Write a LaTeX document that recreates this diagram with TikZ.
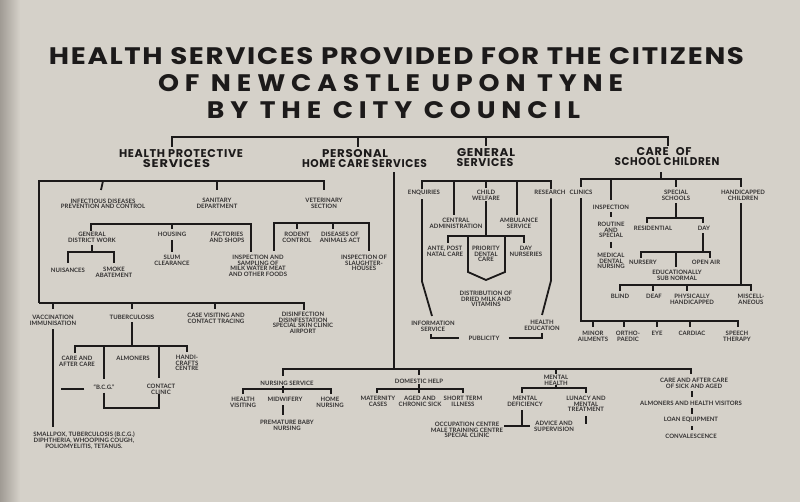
\documentclass[tikz,border=0pt]{standalone}
\usepackage{fontspec}
\usetikzlibrary{calc}
\setmainfont{Lato}
\newfontfamily\titlefont{Poppins}[LetterSpace=6]
\newfontfamily\titlefontw{Poppins}[LetterSpace=22]
\newfontfamily\smallfont{Lato}[LetterSpace=1]
\definecolor{bg}{RGB}{213,209,201}
\definecolor{edge}{RGB}{160,155,148}
\definecolor{ink}{RGB}{28,26,26}
\newcommand\hd[3]{\resizebox{#1pt}{#2pt}{\titlefont\bfseries #3}}
\newcommand\hdw[3]{\resizebox{#1pt}{#2pt}{\titlefontw\bfseries #3}}
\begin{document}
\begin{tikzpicture}[x=1pt,y=-1pt,
  ln/.style={draw=ink,line width=1.8pt},
  tx/.style={font={\smallfont\bfseries\fontsize{6}{5.7}\selectfont}, text=ink!90, align=center, inner sep=0pt, anchor=north},
  hd/.style={text=ink, inner sep=0pt}]
\useasboundingbox (0,0) rectangle (800,502);
\fill[bg] (0,0) rectangle (800,502);
\shade[left color=edge, right color=bg] (0,0) rectangle (20,502);

% ---------- title ----------
\node[hd] (t1) at (396.5,56.5) {\hd{695}{17}{HEALTH SERVICES PROVIDED FOR THE CITIZENS}};
\node[hd] (t2) at (390.5,83.5) {\hdw{465}{17}{OF NEWCASTLE UPON TYNE}};
\node[hd] (t3) at (393.5,110) {\hdw{373}{17}{BY THE CITY COUNCIL}};

% ---------- headings ----------
\node[hd] (hp1) at (181,154) {\hd{124}{8}{HEALTH PROTECTIVE}};
\node[hd] (hp2) at (176.5,164) {\hd{67}{8}{SERVICES}};
\node[hd] (ph1) at (355,154) {\hd{66}{8}{PERSONAL}};
\node[hd] (ph2) at (364.5,164) {\hd{125}{8}{HOME CARE SERVICES}};
\node[hd] (gs1) at (486,153) {\hd{58}{8}{GENERAL}};
\node[hd] (gs2) at (485,163) {\hd{57}{8}{SERVICES}};
\node[hd] (cs1) at (664,152) {\hd{55}{8}{CARE\hspace{0.35em} OF}};
\node[hd] (cs2) at (667,162) {\hd{105}{8}{SCHOOL CHILDREN}};

\coordinate (tA) at (172,137);
\draw[ln] ($(hp1.north)+(-9,-3)$) -- (tA) -| ($(cs1.north)+(4,-2)$);
\draw[ln] ($(ph1.north |- tA)+(3,0)$) -- ($(ph1.north)+(3,-3)$);
\draw[ln] (gs1.north |- tA) -- ($(gs1.north)+(0,-3)$);

% ---------- health protective ----------
\node[tx] (inf) at (103,198.5) {INFECTIOUS DISEASES\\PREVENTION AND CONTROL};
\node[tx] (san) at (217,197.8) {SANITARY\\DEPARTMENT};
\node[tx] (vet) at (324,197.8) {VETERINARY\\SECTION};
\node[tx] (gdw) at (92,231.8) {GENERAL\\DISTRICT WORK};
\node[tx] (housing) at (172,231.8) {HOUSING};
\node[tx] (fact) at (227,231.8) {FACTORIES\\AND SHOPS};
\node[tx] (nuis) at (68,267.8) {NUISANCES};
\node[tx] (smoke) at (114,266.8) {SMOKE\\ABATEMENT};
\node[tx] (slum) at (172,254.8) {SLUM\\CLEARANCE};
\node[tx] (insp) at (258,254.8) {INSPECTION AND\\SAMPLING OF\\MILK WATER MEAT\\AND OTHER FOODS};
\node[tx] (rodent) at (297,231.8) {RODENT\\CONTROL};
\node[tx] (dis) at (340,231.8) {DISEASES OF\\ANIMALS ACT};
\node[tx] (inspof) at (364,254.8) {INSPECTION OF\\SLAUGHTER-\\HOUSES};

\coordinate (hpA) at (39,181);
\coordinate (hpB) at (39,303);
\draw[ln] (hpB) -- (hpA) -| ($(vet.north)+(0,-8)$);
\draw[ln] (inf.north |- hpA) -- ($(inf.north)+(-2,-8.5)$);
\draw[ln] (san.north |- hpA) -- ($(san.north)+(0,-8)$);

\coordinate (sanA) at (91,224);
\draw[ln] ($(gdw.north)+(-1,-1)$) -- (sanA) -| ($(insp.north)+(-7,-3)$);
\draw[ln] (housing.north |- sanA) -- ($(housing.north)+(0,-3)$);
\coordinate (gdwj) at (92,252);
\draw[ln] ($(gdw.south)+(0,3)$) -- (gdwj);
\draw[ln] ($(nuis.north)+(0,-4.8)$) -- (nuis.north |- gdwj) -- (smoke.north |- gdwj) -- ($(smoke.north)+(0,-3.8)$);
\draw[ln] ($(housing.south)+(0,3.8)$) -- ($(slum.north)+(0,-2.8)$);

\coordinate (vetA) at (274,223);
\draw[ln] ($(insp.north)+(16,-3.8)$) -- (vetA) -| ($(inspof.north)+(5,-3.8)$);
\draw[ln] (rodent.north |- vetA) -- ($(rodent.north)+(0,-2.8)$);
\draw[ln] ($(dis.north |- vetA)+(-7,0)$) -- ($(dis.north)+(-7,-2.8)$);

\node[tx] (vacc) at (53,314.8) {VACCINATION\\IMMUNISATION};
\node[tx] (tb) at (132,314.8) {TUBERCULOSIS};
\node[tx] (casev) at (216,312.8) {CASE VISITING AND\\CONTACT TRACING};
\node[tx] (disinf) at (303,311.8) {DISINFECTION\\DISINFESTATION\\SPECIAL SKIN CLINIC\\AIRPORT};
\node[tx] (smallpox) at (84,431.8) {SMALLPOX, TUBERCULOSIS (B.C.G.)\\DIPHTHERIA, WHOOPING COUGH,\\POLIOMYELITIS, TETANUS.};
\node[tx] (care) at (77,355.8) {CARE AND\\AFTER CARE};
\node[tx] (alm) at (133,355.8) {ALMONERS};
\node[tx] (handi) at (187,354.8) {HANDI-\\CRAFTS\\CENTRE};
\node[tx] (bcg) at (104,384.8) {“B.C.G.”};
\node[tx] (contact) at (161,383.8) {CONTACT\\CLINIC};

\draw[ln] (hpB) -| ($(disinf.north)+(1,-1.5)$);
\draw[ln] (vacc.north |- hpB) -- ($(vacc.north)+(0,-5.8)$);
\draw[ln] (tb.north |- hpB) -- ($(tb.north)+(0,-5.8)$);
\draw[ln] ($(casev.north |- hpB)+(-1,0)$) -- ($(casev.north)+(-1,-3.8)$);
\draw[ln] ($(vacc.south)+(0,3.8)$) -- ($(vacc.south |- smallpox.north)+(0,-5)$);

\coordinate (tbj) at (132,346);
\draw[ln] ($(tb.south)+(0,2.8)$) -- (tbj);
\draw[ln] ($(care.north)+(-2,-2.8)$) -- ($(care.north |- tbj)+(-2,0)$) -- (handi.north |- tbj) -- ($(handi.north)+(0,-2.8)$);
\draw[ln] (bcg.north |- tbj) -- ($(bcg.north)+(0,-5.8)$);
\draw[ln] ($(bcg.south)+(0,2.8)$) -- ($(bcg.south)+(0,17.8)$) -| ($(contact.south)+(-2,0)$);
\draw[ln] ($(contact.north |- tbj)+(-2,0)$) -- ($(contact.north)+(-2,-5.8)$);
\draw[ln] ($(bcg.west)+(-9,1.5)$) -- ++(-23,0);

% ---------- personal home care ----------
\coordinate (pj) at (394,369);
\draw[ln] ($(ph2.south)+(29.5,4)$) -- (pj);
\node[tx] (nurs) at (287,380.8) {NURSING SERVICE};
\node[tx] (hv) at (243,396.8) {HEALTH\\VISITING};
\node[tx] (mid) at (285,396.8) {MIDWIFERY};
\node[tx] (prem) at (287,419.8) {PREMATURE BABY\\NURSING};
\node[tx] (home) at (330,396.8) {HOME\\NURSING};
\node[tx] (dom) at (419,378.8) {DOMESTIC HELP};
\node[tx] (mat) at (378,395.8) {MATERNITY\\CASES};
\node[tx] (aged) at (420,395.8) {AGED AND\\CHRONIC SICK};
\node[tx] (short) at (463,395.8) {SHORT TERM\\ILLNESS};
\node[tx] (mh) at (556,374.8) {MENTAL\\HEALTH};
\node[tx] (md) at (525,395.8) {MENTAL\\DEFICIENCY};
\node[tx] (lun) at (586,395.8) {LUNACY AND\\MENTAL\\TREATMENT};
\node[tx] (occ) at (467,421.8) {OCCUPATION CENTRE\\MALE TRAINING CENTRE\\SPECIAL CLINIC};
\node[tx] (adv) at (554,420.8) {ADVICE AND\\SUPERVISION};
\node[tx] (care2) at (694,377.8) {CARE AND AFTER CARE\\OF SICK AND AGED};
\node[tx] (almhv) at (691,400.8) {ALMONERS AND HEALTH VISITORS};
\node[tx] (loan) at (691,416.8) {LOAN EQUIPMENT};
\node[tx] (conv) at (691,433.8) {CONVALESCENCE};

\draw[ln] ($(nurs.north)+(-4,-4.8)$) -- ($(nurs.north |- pj)+(-4,0)$) -- ($(care2.north |- pj)+(-3,0)$) -- ($(care2.north)+(-3,-3.8)$);
\draw[ln] (dom.north |- pj) -- ($(dom.north)+(0,-3.8)$);
\draw[ln] (mh.north |- pj) -- ($(mh.north)+(0,-1)$);

\coordinate (nj) at (283,389);
\draw[ln] ($(hv.north)+(0,-2.8)$) -- (hv.north |- nj) -- ($(home.north |- nj)+(1,0)$) -- ($(home.north)+(1,-2.8)$);
\draw[ln] ($(nurs.south)+(-4,0)$) -- ($(mid.north)+(-2,-3.8)$);
\draw[ln] ($(mid.south)+(-2,3.8)$) -- ($(prem.north)+(-4,-4.8)$);

\coordinate (dj) at (419,389);
\draw[ln] ($(mat.north)+(-1,-2.8)$) -- ($(mat.north |- dj)+(-1,0)$) -- (short.north |- dj) -- ($(short.north)+(0,-2.8)$);
\draw[ln] (dom.south) -- ($(aged.north)+(-1,-2.8)$);

\coordinate (mj) at (556,388);
\draw[ln] ($(md.north)+(-3,-2.8)$) -- ($(md.north |- mj)+(-3,0)$) -- (lun.north |- mj) -- ($(lun.north)+(0,-2.8)$);
\draw[ln] (mh.south) -- (mj);
\draw[ln] ($(md.south)+(-3,3.8)$) -- ($(md.south)+(-3,19.8)$) coordinate (mdt);
\draw[ln] ($(mdt)+(-18,0)$) -- ($(mdt)+(8,0)$);
\draw[ln] ($(lun.south)+(0,3.8)$) -- ++(0,8);

\draw[ln] ($(care2.south)+(-2,2.8)$) -- ($(almhv.north)+(1,-3.8)$);
\draw[ln] ($(almhv.south)+(1,2.8)$) -- ($(loan.north)+(1,-2.8)$);
\draw[ln] ($(loan.south)+(1,3.8)$) -- ($(conv.north)+(1,-3.8)$);

% ---------- general services ----------
\node[tx] (enq) at (424,189.8) {ENQUIRIES};
\node[tx] (cw) at (486,189.8) {CHILD\\WELFARE};
\node[tx] (res) at (550,189.8) {RESEARCH};
\node[tx] (ca) at (456,217.8) {CENTRAL\\ADMINISTRATION};
\node[tx] (amb) at (519,217.8) {AMBULANCE\\SERVICE};
\node[tx] (ante) at (445,245.8) {ANTE, POST\\NATAL CARE};
\node[tx] (prio) at (486,245.8) {PRIORITY\\DENTAL\\CARE};
\node[tx] (day) at (526,245.8) {DAY\\NURSERIES};
\node[tx] (dist) at (486,290.8) {DISTRIBUTION OF\\DRIED MILK AND\\VITAMINS};
\node[tx] (info) at (433,320.8) {INFORMATION\\SERVICE};
\node[tx] (he) at (542,319.8) {HEALTH\\EDUCATION};
\node[tx] (pub) at (484,335.8) {PUBLICITY};

\coordinate (gA) at (422,181);
\draw[ln] ($(enq.north)+(-2,-1)$) -- (gA) -| ($(res.north)+(1,-1)$);
\draw[ln] ($(ca.north |- gA)+(-2,0)$) -- ($(ca.north)+(-2,-2.8)$);
\draw[ln] (cw.north |- gA) -- ($(cw.north)+(0,-1.8)$);
\draw[ln] ($(amb.north |- gA)+(-2,0)$) -- ($(amb.north)+(-2,-2.8)$);
\draw[ln] ($(enq.south)+(-2,3.8)$) -- ($(enq.south)+(-2,86)$) -- ($(info.north)+(-1,-4.8)$);
\draw[ln] ($(res.south)+(1,3.8)$) -- ($(res.south)+(1,86)$) -- ($(he.north)+(0,-4.8)$);

\coordinate (cwj) at (486,236);
\draw[ln] ($(cw.south)+(0,1)$) -- (cwj);
\draw[ln] ($(ante.north)+(3,-2.8)$) -- ($(ante.north |- cwj)+(3,0)$) -- ($(day.north |- cwj)+(-2,0)$) -- ($(day.north)+(-2,-2.8)$);
\draw[ln] ($(cwj)+(-18,0)$) -- ($(cwj)+(-18,36)$) -- ($(dist.north)+(0,-10.8)$) -- ($(cwj)+(19,36)$) -- ($(cwj)+(19,0)$);

\draw[ln] ($(info.south)+(-2,2.8)$) |- ($(pub.west)+(-9,0)$);
\draw[ln] ($(pub.east)+(9,0)$) -| ($(he.south)+(0,2.8)$);

% ---------- care of school children ----------
\node[tx] (clin) at (581,189.8) {CLINICS};
\node[tx] (insp2) at (611,204.8) {INSPECTION};
\node[tx] (routine) at (611,221.8) {ROUTINE\\AND\\SPECIAL};
\node[tx] (mdn) at (611,252.8) {MEDICAL\\DENTAL\\NURSING};
\node[tx] (ss) at (676,189.8) {SPECIAL\\SCHOOLS};
\node[tx] (resid) at (653,225.8) {RESIDENTIAL};
\node[tx] (day2) at (704,225.8) {DAY};
\node[tx] (nursery) at (643,259.8) {NURSERY};
\node[tx] (openair) at (706,259.8) {OPEN AIR};
\node[tx] (edu) at (677,269.8) {EDUCATIONALLY\\SUB NORMAL};
\node[tx] (hc) at (743,189.8) {HANDICAPPED\\CHILDREN};
\node[tx] (blind) at (620,293.8) {BLIND};
\node[tx] (deaf) at (654,293.8) {DEAF};
\node[tx] (phys) at (692,293.8) {PHYSICALLY\\HANDICAPPED};
\node[tx] (misc) at (751,293.8) {MISCELL-\\ANEOUS};
\node[tx] (minor) at (593,330.8) {MINOR\\AILMENTS};
\node[tx] (ortho) at (628,330.8) {ORTHO-\\PAEDIC};
\node[tx] (eye) at (657,330.8) {EYE};
\node[tx] (cardiac) at (692,330.8) {CARDIAC};
\node[tx] (speech) at (737,330.8) {SPEECH\\THERAPY};

\draw[ln] ($(cs2.south)+(-6,6)$) -- ($(cs2.south)+(-6,13)$);
\coordinate (sA) at (581,179);
\draw[ln] ($(clin.north)+(0,-2.8)$) -- (sA) -| ($(hc.north)+(-2,-2.8)$);
\draw[ln] (insp2.north |- sA) -- ($(insp2.north)+(0,-4.8)$);
\draw[ln] (ss.north |- sA) -- ($(ss.north)+(0,-2.8)$);
\draw[ln] ($(insp2.south)+(0,2.8)$) -- ($(routine.north)+(0,-4.8)$);
\draw[ln] ($(routine.south)+(0,3.8)$) -- ($(mdn.north)+(0,-4.8)$);

\coordinate (cB) at (581,321);
\draw[ln] ($(clin.south)+(0,3.8)$) -- (cB) -| ($(speech.north)+(1,-3.8)$);
\draw[ln] (minor.north |- cB) -- ($(minor.north)+(0,-3.8)$);
\draw[ln] ($(ortho.north |- cB)+(-4,0)$) -- ($(ortho.north)+(-4,-3.8)$);
\draw[ln] (eye.north |- cB) -- ($(eye.north)+(0,-3.8)$);
\draw[ln] ($(cardiac.north |- cB)+(-2,0)$) -- ($(cardiac.north)+(-2,-3.8)$);

\coordinate (ssj) at (676,218);
\draw[ln] ($(ss.south)+(0,2.8)$) -- (ssj);
\draw[ln] ($(resid.north)+(-6,-2.8)$) -- ($(resid.north |- ssj)+(-6,0)$) -- ($(day2.north |- ssj)+(-1,0)$) -- ($(day2.north)+(-1,-2.8)$);
\coordinate (dj2) at (703,252);
\draw[ln] ($(day2.south)+(-1,2.8)$) -- (dj2);
\draw[ln] ($(nursery.north)+(-2,-1.8)$) -- ($(nursery.north |- dj2)+(-2,0)$) -- ($(openair.north |- dj2)+(4,0)$) -- ($(openair.north)+(4,-1.8)$);
\draw[ln] ($(edu.north |- dj2)+(-1,0)$) -- ($(edu.north)+(-1,-2.8)$);

\coordinate (hj) at (741,285);
\draw[ln] ($(hc.south)+(-2,2.8)$) -- (hj);
\draw[ln] ($(blind.north)+(0,-2.8)$) -- (blind.north |- hj) -- (misc.north |- hj) -- ($(misc.north)+(0,-2.8)$);
\draw[ln] ($(deaf.north |- hj)+(-1,0)$) -- ($(deaf.north)+(-1,-2.8)$);
\draw[ln] ($(phys.north |- hj)+(-5,0)$) -- ($(phys.north)+(-5,-2.8)$);
\end{tikzpicture}
\end{document}
